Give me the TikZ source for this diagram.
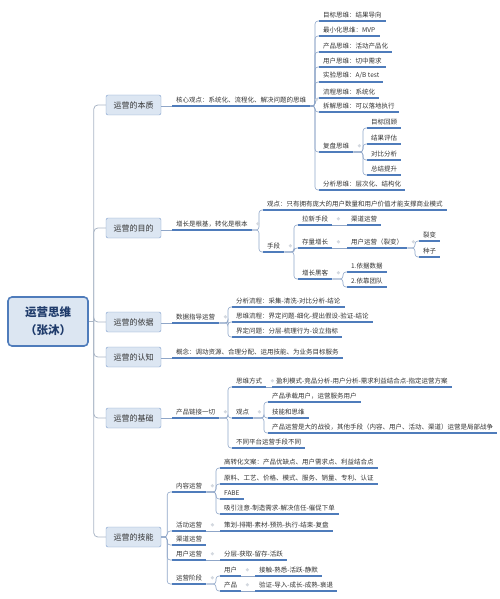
\documentclass[tikz,border=0pt]{standalone}
\usepackage{fontspec}
\setmainfont{Noto Sans CJK SC}
\usepackage{xcolor}
\usepackage{tikz}
\usetikzlibrary{positioning}
\definecolor{ytext}{HTML}{333333}
\definecolor{yline}{HTML}{4F7CBB}
\definecolor{ylink}{HTML}{8FA6C8}
\definecolor{ytrunk}{HTML}{AAB6C6}
\definecolor{yfill}{HTML}{DCE6F2}
\definecolor{ybox}{HTML}{7C9CCA}
\definecolor{ynavy}{HTML}{1F3B6B}
\definecolor{ydot}{HTML}{D3D8DF}

\tikzset{
  uline/.style={draw=yline, line width=1.2pt},
  leaf/.style={font=\fontsize{6.5}{7.5}\selectfont, text=ytext, anchor=south west,
    inner xsep=4pt, inner ysep=3pt,
    append after command={(\tikzlastnode.south west) edge[uline] (\tikzlastnode.south east)}},
  topic/.style={draw=ybox, fill=yfill, rounded corners=2pt, minimum width=55pt,
    minimum height=20pt, inner sep=0pt, font=\fontsize{8}{9}\selectfont, text=ytext},
  rootbox/.style={draw=yline, fill=yfill, line width=1.6pt, rounded corners=4pt,
    minimum width=80pt, minimum height=49pt, align=center,
    font=\fontsize{11.5}{18}\selectfont\bfseries, text=ynavy},
  conn/.style={draw=ylink, line width=0.6pt, rounded corners=3pt},
  trunk/.style={draw=ytrunk, line width=0.8pt, rounded corners=4pt}
}
\newcommand{\kdot}[1]{\fill[ydot] ([xshift=6pt]#1.east) circle (1.8pt);}

\begin{document}
\begin{tikzpicture}[x=1pt, y=-1pt]
\useasboundingbox (0,0) rectangle (500,599);

% root and main topics
\node[rootbox] (root) at (48,321.5) {运营思维\\（张沐）};
\node[topic] (essence) at (133.5,105) {运营的本质};
\node[topic] (purpose) at (133.5,228) {运营的目的};
\node[topic] (basis) at (133.5,322) {运营的依据};
\node[topic] (cognition) at (133.5,357) {运营的认知};
\node[topic] (founda) at (133.5,418) {运营的基础};
\node[topic] (skill) at (133.5,537) {运营的技能};

\draw[trunk] (root.east) -- ++(5,0);
\foreach \b in {essence,purpose,basis,cognition,founda,skill}
  \draw[trunk] ([xshift=5pt]root.east) |- (\b.west);

% essence
\node[leaf] (core) at (172,106) {核心观点：系统化、流程化、解决问题的思维};
\node[leaf] (goal) at (319,21) {目标思维：结果导向};
\node[leaf] (mvp) at (319,36) {最小化思维：MVP};
\node[leaf] (prod) at (319,52) {产品思维：活动产品化};
\node[leaf] (user) at (319,67) {用户思维：切中需求};
\node[leaf] (test) at (319,82) {实验思维：A/B test};
\node[leaf] (flow) at (319,98) {流程思维：系统化};
\node[leaf] (split) at (319,112) {拆解思维：可以落地执行};
\node[leaf] (review) at (319,152) {复盘思维};
\node[leaf] (analy) at (319,190) {分析思维：层次化、结构化};
\node[leaf] (rv1) at (367,128) {目标回顾};
\node[leaf] (rv2) at (367,144) {结果评估};
\node[leaf] (rv3) at (367,160) {对比分析};
\node[leaf] (rv4) at (367,175) {总结提升};

\draw[conn] (essence.east |- core.south west) -- (core.south west);
\foreach \c in {goal,mvp,prod,user,test,flow,split,review,analy}
  \draw[conn] (core.south east) -| ([xshift=-4pt]\c.south west) -- (\c.south west);
\foreach \c in {rv1,rv2,rv3,rv4}
  \draw[conn] (review.south east) -| ([xshift=-4pt]\c.south west) -- (\c.south west);

% purpose
\node[leaf] (grow) at (172,230) {增长是根基，转化是根本};
\node[leaf] (view) at (263,210) {观点：只有拥有庞大的用户数量和用户价值才能支撑商业模式};
\node[leaf] (means) at (263,252) {手段};
\node[leaf] (pull) at (298,225) {拉新手段};
\node[leaf] (stock) at (298,248) {存量增长};
\node[leaf] (hack) at (298,279) {增长黑客};
\node[leaf] (chan1) at (347,225) {渠道运营};
\node[leaf] (uop) at (347,248) {用户运营（裂变）};
\node[leaf] (fiss) at (419,241) {裂变};
\node[leaf] (seed) at (419,257) {种子};
\node[leaf] (data1) at (347,272) {1.依据数据};
\node[leaf] (team2) at (347,287) {2.依靠团队};

\draw[conn] (purpose.east |- grow.south west) -- (grow.south west);
\foreach \c in {view,means}
  \draw[conn] (grow.south east) -| ([xshift=-4pt]\c.south west) -- (\c.south west);
\foreach \c in {pull,stock,hack}
  \draw[conn] (means.south east) -| ([xshift=-4pt]\c.south west) -- (\c.south west);
\draw[conn] (pull.south east) -- (chan1.south west);
\draw[conn] (stock.south east) -- (uop.south west);
\foreach \c in {fiss,seed}
  \draw[conn] (uop.south east) -| ([xshift=-4pt]\c.south west) -- (\c.south west);
\foreach \c in {data1,team2}
  \draw[conn] (hack.south east) -| ([xshift=-4pt]\c.south west) -- (\c.south west);

% basis
\node[leaf] (datadrv) at (172,323) {数据指导运营};
\node[leaf] (ana) at (232,307) {分析流程：采集-清洗-对比分析-结论};
\node[leaf] (think) at (232,322) {思维流程：界定问题-细化-提出假设-验证-结论};
\node[leaf] (define) at (232,337) {界定问题：分层-梳理行为-设立指标};

\draw[conn] (basis.east |- datadrv.south west) -- (datadrv.south west);
\foreach \c in {ana,think,define}
  \draw[conn] (datadrv.south east) -| ([xshift=-4pt]\c.south west) -- (\c.south west);

% cognition
\node[leaf] (concept) at (172,358) {概念：调动资源、合理分配、运用技能、为业务目标服务};
\draw[conn] (cognition.east |- concept.south west) -- (concept.south west);

% foundation
\node[leaf] (prodlink) at (172,418) {产品链接一切};
\node[leaf] (mode) at (232,387) {思维方式};
\node[leaf] (profit) at (272,387) {盈利模式-竞品分析-用户分析-需求利益结合点-指定运营方案};
\node[leaf] (opin) at (232,418) {观点};
\node[leaf] (carry) at (268,402) {产品承载用户，运营服务用户};
\node[leaf] (skthink) at (268,418) {技能和思维};
\node[leaf] (battle) at (268,433) {产品运营是大的战役，其他手段（内容、用户、活动、渠道）运营是局部战争};
\node[leaf] (diff) at (232,448) {不同平台运营手段不同};

\draw[conn] (founda.east |- prodlink.south west) -- (prodlink.south west);
\foreach \c in {mode,opin,diff}
  \draw[conn] (prodlink.south east) -| ([xshift=-4pt]\c.south west) -- (\c.south west);
\draw[conn] (mode.south east) -- (profit.south west);
\foreach \c in {carry,skthink,battle}
  \draw[conn] (opin.south east) -| ([xshift=-4pt]\c.south west) -- (\c.south west);

% skills
\node[leaf] (content) at (172,492) {内容运营};
\node[leaf] (activity) at (172,531) {活动运营};
\node[leaf] (channel) at (172,545) {渠道运营};
\node[leaf] (userop) at (172,560) {用户运营};
\node[leaf] (stage) at (172,584) {运营阶段};
\node[leaf] (copy) at (220,468) {高转化文案：产品优缺点、用户需求点、利益结合点};
\node[leaf] (mats) at (220,484) {原料、工艺、价格、模式、服务、销量、专利、认证};
\node[leaf] (fabe) at (220,499) {FABE};
\node[leaf] (attn) at (220,514) {吸引注意-制造需求-解决信任-催促下单};
\node[leaf] (plan) at (220,531) {策划-排期-素材-预热-执行-结束-复盘};
\node[leaf] (layer) at (220,560) {分层-获取-留存-活跃};
\node[leaf] (su) at (220,576) {用户};
\node[leaf] (sp) at (220,591) {产品};
\node[leaf] (sul) at (255,576) {接触-熟悉-活跃-静默};
\node[leaf] (spl) at (255,591) {验证-导入-成长-成熟-衰退};

\foreach \c in {content,activity,channel,userop,stage}
  \draw[conn] (skill.east) -- ++(6,0) |- (\c.south west);
\foreach \c in {copy,mats,fabe,attn}
  \draw[conn] (content.south east) -| ([xshift=-4pt]\c.south west) -- (\c.south west);
\draw[conn] (activity.south east) -- (plan.south west);
\draw[conn] (userop.south east) -- (layer.south west);
\foreach \c in {su,sp}
  \draw[conn] (stage.south east) -| ([xshift=-4pt]\c.south west) -- (\c.south west);
\draw[conn] (su.south east) -- (sul.south west);
\draw[conn] (sp.south east) -- (spl.south west);

% fold markers
\foreach \n in {core,review,grow,means,pull,stock,uop,hack,datadrv,prodlink,mode,opin,content,activity,userop,stage,su,sp}
  {\kdot{\n}}
\end{tikzpicture}
\end{document}
